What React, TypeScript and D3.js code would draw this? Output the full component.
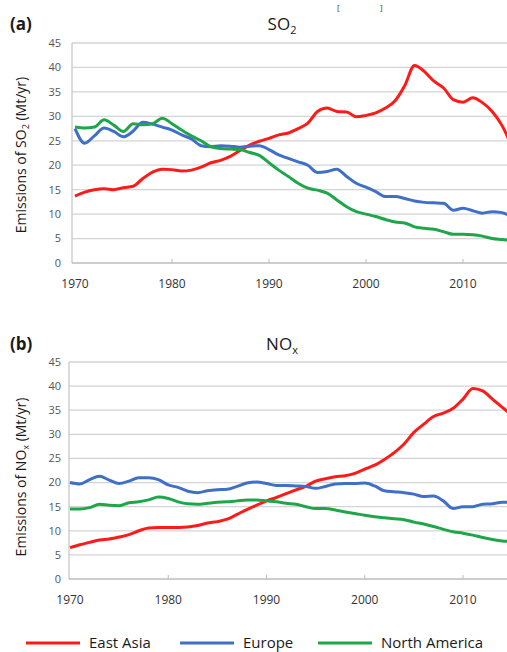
import React from "react";
import * as d3 from "d3";

const years = d3.range(1970, 2016);
const xTicks = [1970, 1980, 1990, 2000, 2010];
const yTicks = [0, 5, 10, 15, 20, 25, 30, 35, 40, 45];

const so2EastAsia = [
  13.7, 14.5, 15.0, 15.2, 15.0, 15.4, 15.7, 17.3, 18.6, 19.2,
  19.1, 18.8, 19.0, 19.6, 20.5, 21.0, 21.8, 23.0, 24.1, 24.9,
  25.5, 26.2, 26.6, 27.5, 28.6, 31.0, 31.7, 31.0, 30.9, 29.9,
  30.2, 30.7, 31.7, 33.2, 36.3, 40.4, 39.2, 37.2, 35.8, 33.4,
  32.9, 33.8, 32.8, 31.0, 28.2, 24.0,
];
const so2Europe = [
  27.5, 24.5, 26.0, 27.6, 26.9, 25.8, 27.0, 28.8, 28.4, 27.8,
  27.2, 26.2, 25.4, 24.0, 23.8, 24.0, 23.9, 23.7, 23.9, 24.0,
  23.2, 22.1, 21.4, 20.7, 20.0, 18.5, 18.7, 19.2, 17.7, 16.3,
  15.5, 14.6, 13.6, 13.6, 13.2, 12.7, 12.4, 12.3, 12.2, 10.8,
  11.2, 10.7, 10.2, 10.5, 10.3, 9.5,
];
const so2NorthAmerica = [
  27.8, 27.6, 27.8, 29.3, 28.2, 26.9, 28.5, 28.3, 28.5, 29.6,
  28.5, 27.2, 26.0, 25.0, 23.8, 23.4, 23.3, 23.2, 22.6, 22.0,
  20.5, 19.0, 17.7, 16.3, 15.3, 14.9, 14.3, 12.9, 11.5, 10.5,
  10.0, 9.5, 8.9, 8.4, 8.2, 7.4, 7.1, 6.9, 6.4, 5.9,
  5.9, 5.8, 5.5, 5.0, 4.8, 4.6,
];
const noxEastAsia = [
  6.5, 7.1, 7.6, 8.1, 8.3, 8.7, 9.2, 10.0, 10.6, 10.7,
  10.7, 10.7, 10.8, 11.1, 11.6, 11.9, 12.4, 13.4, 14.4, 15.3,
  16.2, 16.9, 17.7, 18.5, 19.2, 20.3, 20.8, 21.2, 21.4, 21.9,
  22.8, 23.6, 24.8, 26.2, 28.0, 30.4, 32.1, 33.7, 34.4, 35.4,
  37.3, 39.5, 39.0, 37.3, 35.6, 34.0,
];
const noxEurope = [
  20.0, 19.7, 20.6, 21.3, 20.5, 19.8, 20.3, 21.0, 21.0, 20.6,
  19.5, 19.0, 18.2, 17.9, 18.3, 18.5, 18.6, 19.2, 19.9, 20.1,
  19.8, 19.4, 19.4, 19.3, 19.2, 18.8, 19.2, 19.7, 19.8, 19.8,
  19.9, 19.3, 18.3, 18.1, 17.9, 17.6, 17.1, 17.2, 16.2, 14.6,
  15.0, 15.0, 15.5, 15.6, 15.9, 15.9,
];
const noxNorthAmerica = [
  14.5, 14.5, 14.8, 15.5, 15.3, 15.2, 15.8, 16.0, 16.4, 17.0,
  16.7, 16.0, 15.6, 15.5, 15.7, 15.9, 16.0, 16.2, 16.4, 16.4,
  16.2, 16.0, 15.7, 15.5, 15.0, 14.6, 14.6, 14.3, 13.9, 13.6,
  13.2, 12.9, 12.7, 12.5, 12.3, 11.8, 11.4, 10.9, 10.3, 9.8,
  9.5, 9.1, 8.6, 8.2, 7.9, 7.8,
];

const seriesNames = ["East Asia", "Europe", "North America"];
const seriesColors = ["#ff1a1a", "#3f6fc6", "#1fa64a"];

const FONT = "'Open Sans', 'Liberation Sans', sans-serif";
const W = 507;
const H = 652;

type PanelProps = {
  label: string;
  gas: string;
  sub: string;
  data: number[][];
  axisX: number;
  x1970: number;
  yTop: number;
  yBottom: number;
  titleY: number;
  yTitleMid: number;
};

function Panel({ label, gas, sub, data, axisX, x1970, yTop, yBottom, titleY, yTitleMid }: PanelProps) {
  const x = d3.scaleLinear().domain([1970, 2010]).range([x1970, 463]);
  const y = d3.scaleLinear().domain([0, 45]).range([yBottom, yTop]);
  const line = d3
    .line<number>()
    .x((_, i) => x(years[i]))
    .y((d) => y(d))
    .curve(d3.curveMonotoneX);
  return (
    <g>
      <text x={10} y={titleY} fontFamily={FONT} fontSize={17} fontWeight="bold" fill="#1a1a1a">
        {label}
      </text>
      <text x={282} y={titleY} fontFamily={FONT} fontSize={17} textAnchor="middle" fill="#1a1a1a">
        {gas}
        <tspan fontSize={11} dy={4}>{sub}</tspan>
      </text>
      {yTicks.map((t) => (
        <g key={t}>
          {t > 0 && (
            <line x1={axisX} x2={W} y1={y(t)} y2={y(t)} stroke="#d4d4d4" strokeWidth={1.3} />
          )}
          <text
            x={61}
            y={y(t)}
            dy="0.35em"
            textAnchor="end"
            fontFamily={FONT}
            fontSize={11}
            fill="#555"
          >
            {t}
          </text>
        </g>
      ))}
      <line x1={axisX} x2={axisX} y1={yTop} y2={yBottom} stroke="#c8c8c8" strokeWidth={1.3} />
      <line x1={axisX} x2={W} y1={yBottom} y2={yBottom} stroke="#bdbdbd" strokeWidth={1.3} />
      {xTicks.map((t) => (
        <g key={t}>
          {t > 1970 && (
            <line x1={x(t)} x2={x(t)} y1={yBottom - 4} y2={yBottom} stroke="#bdbdbd" strokeWidth={1} />
          )}
          <text
            x={x(t)}
            y={yBottom + 25}
            textAnchor="middle"
            fontFamily={FONT}
            fontSize={12}
            fill="#333"
          >
            {t}
          </text>
        </g>
      ))}
      <text
        transform={`translate(26,${yTitleMid}) rotate(-90)`}
        textAnchor="middle"
        fontFamily={FONT}
        fontSize={14}
        fill="#1a1a1a"
      >
        {"Emissions of " + gas}
        <tspan fontSize={9} dy={3}>{sub}</tspan>
        <tspan dy={-3}>{" (Mt/yr)"}</tspan>
      </text>
      {data.map((d, i) => (
        <path
          key={i}
          d={line(d) || ""}
          fill="none"
          stroke={seriesColors[i]}
          strokeWidth={3}
          strokeLinejoin="round"
        />
      ))}
    </g>
  );
}

export default function App() {
  const legendX = [26, 180, 318];
  return (
    <svg
      width={W}
      height={H}
      viewBox={`0 0 ${W} ${H}`}
      style={{ position: "absolute", left: 0, top: 0, background: "#fff" }}
    >
      <rect width={W} height={H} fill="#fff" />
      <text x={337} y={10} fontFamily={FONT} fontSize={8} fill="#333">[</text>
      <text x={380} y={10} fontFamily={FONT} fontSize={8} fill="#333">]</text>
      <Panel
        label="(a)"
        gas="SO"
        sub="2"
        data={[so2EastAsia, so2Europe, so2NorthAmerica]}
        axisX={72}
        x1970={75}
        yTop={43}
        yBottom={263}
        titleY={30}
        yTitleMid={155}
      />
      <Panel
        label="(b)"
        gas="NO"
        sub="x"
        data={[noxEastAsia, noxEurope, noxNorthAmerica]}
        axisX={69}
        x1970={70}
        yTop={362}
        yBottom={579}
        titleY={350}
        yTitleMid={477}
      />
      {seriesNames.map((n, i) => (
        <g key={n}>
          <line
            x1={legendX[i]}
            x2={legendX[i] + 54}
            y1={643}
            y2={643}
            stroke={seriesColors[i]}
            strokeWidth={3}
          />
          <text x={legendX[i] + 63} y={648} fontFamily={FONT} fontSize={15} fill="#1a1a1a">
            {n}
          </text>
        </g>
      ))}
    </svg>
  );
}
